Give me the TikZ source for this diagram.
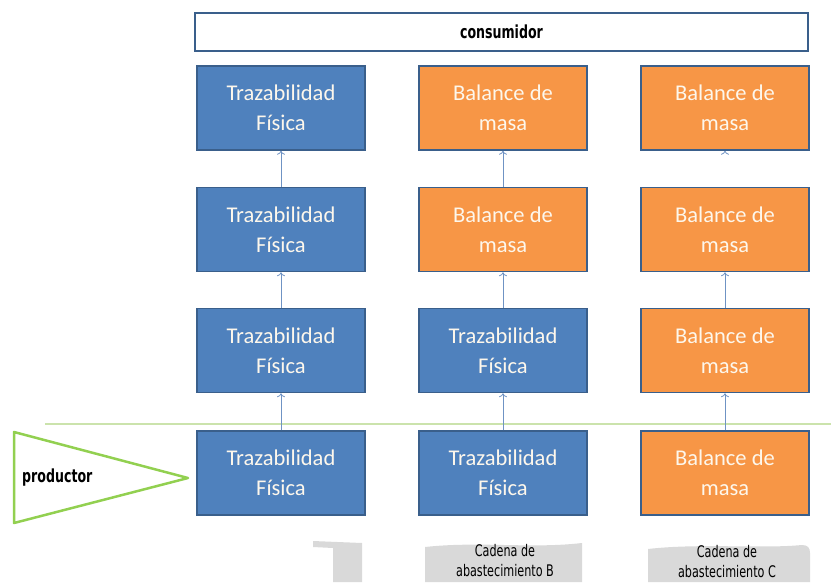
\documentclass[tikz,border=0pt]{standalone}
\usepackage{fontspec}
\usepackage{tikz}
\usetikzlibrary{arrows.meta}

\newfontfamily\boxfont{Carlito}
\newfontfamily\condfont[FakeStretch=0.7]{DejaVu Sans}

\definecolor{trazblue}{HTML}{4F81BD}
\definecolor{edgeblue}{HTML}{3A5F8B}
\definecolor{masaorange}{HTML}{F79646}
\definecolor{boxtext}{HTML}{FDF7EC}
\definecolor{linkblue}{HTML}{6F93C4}
\definecolor{prodgreen}{HTML}{92D050}
\definecolor{rulegreen}{HTML}{CBE3AC}
\definecolor{bannergray}{HTML}{D9D9D9}

\begin{document}
\begin{tikzpicture}[x=1pt,y=-1pt,
    fisica/.style={draw=edgeblue,line width=1.5pt,fill=trazblue,text=boxtext,
      minimum width=168pt,minimum height=84pt,inner sep=0pt,align=center,
      font=\boxfont\fontsize{22.5}{30}\selectfont},
    masa/.style={fisica,fill=masaorange},
    link/.style={draw=linkblue,line width=0.8pt,-{To[length=4pt,width=8pt]}},
    cond/.style={font=\condfont\fontsize{16}{20}\selectfont,align=center,inner sep=0pt}]
    \useasboundingbox (0,0) rectangle (831,582);

    % Consumer on top
    \node[draw=edgeblue,line width=2pt,fill=white,minimum width=613pt,minimum height=38pt,
      inner sep=0pt] (cons) at (501.5,32) {\condfont\bfseries\fontsize{18}{22}\selectfont consumidor};

    % Boundary line and producer
    \draw[rulegreen,line width=1.5pt] (45,424) -- (831,424);
    \draw[prodgreen,line width=2.5pt,line join=round] (14,432) -- (188,478) -- (14,523) -- cycle;
    \node[anchor=west,inner sep=0pt] (prod) at (22,478) {\condfont\bfseries\fontsize{18}{22}\selectfont productor};

    % Chain A
    \node[fisica] (a1) at (281,108) {Trazabilidad\\Física};
    \node[fisica] (a2) at (281,229.5) {Trazabilidad\\Física};
    \node[fisica] (a3) at (281,350.5) {Trazabilidad\\Física};
    \node[fisica] (a4) at (281,473) {Trazabilidad\\Física};

    % Chain B
    \node[masa] (b1) at (503,108) {Balance de\\masa};
    \node[masa] (b2) at (503,229.5) {Balance de\\masa};
    \node[fisica] (b3) at (503,350.5) {Trazabilidad\\Física};
    \node[fisica] (b4) at (503,473) {Trazabilidad\\Física};

    % Chain C
    \node[masa] (c1) at (725,108) {Balance de\\masa};
    \node[masa] (c2) at (725,229.5) {Balance de\\masa};
    \node[masa] (c3) at (725,350.5) {Balance de\\masa};
    \node[masa] (c4) at (725,473) {Balance de\\masa};

    % Links
    \draw[link] (a2) -- (a1);
    \draw[link] (a3) -- (a2);
    \draw[link] (a4) -- (a3);
    \draw[link] (b2) -- (b1);
    \draw[link] (b3) -- (b2);
    \draw[link] (b4) -- (b3);
    \draw[link,draw=white,-{To[length=4pt,width=8pt,color=linkblue]}] (c2) -- (c1);
    \draw[link] (c3) -- (c2);
    \draw[link] (c4) -- (c3);

    % Chain labels
    \fill[bannergray] (313,541) -- (362,543) -- (362,582) -- (333,582) -- (333,548) -- (313,547) -- cycle;
    \fill[bannergray] (425,547) .. controls (480,541) and (530,549) .. (582,543) -- (582,582) -- (425,582) -- cycle;
    \fill[bannergray] (648,549) .. controls (700,543) and (760,549) .. (802,545)
      .. controls (808,545) and (810,548) .. (810,553) -- (810,582) -- (648,582) -- cycle;
    \node[cond,anchor=north] (labB) at (505,544) {Cadena de\\abastecimiento B};
    \node[cond,anchor=north] (labC) at (727,545) {Cadena de\\abastecimiento C};
\end{tikzpicture}
\end{document}
